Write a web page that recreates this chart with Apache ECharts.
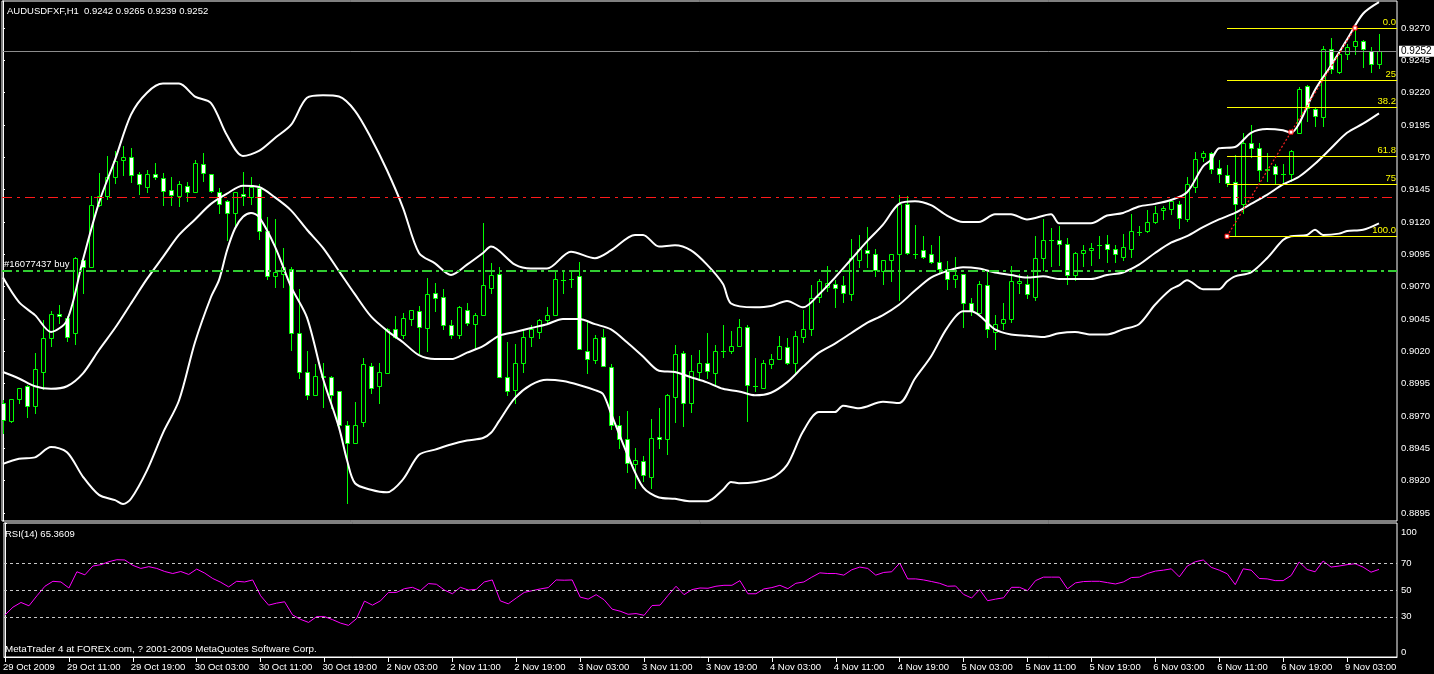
<!DOCTYPE html>
<html><head><meta charset="utf-8">
<script src="https://cdn.jsdelivr.net/npm/echarts@6/dist/echarts.min.js"></script>
<style>html,body{margin:0;padding:0;background:#000;}#c{width:1434px;height:674px;}</style>
</head><body><div id="c"></div>
<script>
const symbolName = 'AUDUSDFXF,H1';
const tickLabels = ['29 Oct 2009','29 Oct 11:00','29 Oct 19:00','30 Oct 03:00','30 Oct 11:00','30 Oct 19:00','2 Nov 03:00','2 Nov 11:00','2 Nov 19:00','3 Nov 03:00','3 Nov 11:00','3 Nov 19:00','4 Nov 03:00','4 Nov 11:00','4 Nov 19:00','5 Nov 03:00','5 Nov 11:00','5 Nov 19:00','6 Nov 03:00','6 Nov 11:00','6 Nov 19:00','9 Nov 03:00'];
const barsPerTick = 8;
const priceTicks = [0.8895,0.8920,0.8945,0.8970,0.8995,0.9020,0.9045,0.9070,0.9095,0.9120,0.9145,0.9170,0.9195,0.9220,0.9245,0.9270];
const rsiTicks = [0,30,50,70,100];
const rsiLevels = [30,50,70];

const opens = [0.8980,0.8966,0.8983,0.8993,0.8978,0.9004,0.9030,0.9049,0.9046,0.9034,
0.9091,0.9085,0.9133,0.9140,0.9155,0.9168,0.9170,0.9157,0.9147,0.9157,
0.9154,0.9145,0.9140,0.9148,0.9143,0.9165,0.9157,0.9143,0.9136,0.9127,
0.9142,0.9139,0.9146,0.9113,0.9078,0.9080,0.9084,0.9034,0.9004,0.8986,
0.9001,0.9000,0.8989,0.8963,0.8949,0.8965,0.9009,0.8993,0.9003,0.9037,
0.9033,0.9045,0.9051,0.9038,0.9065,0.9062,0.9040,0.9033,0.9052,0.9041,
0.9048,0.9069,0.9080,0.9000,0.8990,0.9011,0.9031,0.9035,0.9044,0.9048,
0.9075,0.9076,0.9078,0.9020,0.9013,0.9031,0.9008,0.8963,0.8952,0.8933,
0.8935,0.8923,0.8954,0.8952,0.8985,0.9019,0.8980,0.9004,0.9011,0.9003,
0.9020,0.9020,0.9024,0.9039,0.8993,0.8992,0.9010,0.9014,0.9023,0.9011,
0.9031,0.9037,0.9062,0.9070,0.9072,0.9071,0.9064,0.9091,0.9098,0.9095,
0.9082,0.9091,0.9095,0.9134,0.9095,0.9098,0.9095,0.9089,0.9084,0.9076,
0.9080,0.9057,0.9050,0.9071,0.9035,0.9042,0.9045,0.9073,0.9072,0.9062,
0.9092,0.9106,0.9106,0.9103,0.9079,0.9096,0.9098,0.9102,0.9103,0.9099,
0.9093,0.9099,0.9112,0.9113,0.9120,0.9129,0.9130,0.9134,0.9122,0.9147,
0.9170,0.9173,0.9162,0.9156,0.9151,0.9134,0.9181,0.9177,0.9161,0.9163,
0.9157,0.9157,0.9189,0.9225,0.9207,0.9201,0.9254,0.9236,0.9250,0.9256,
0.9260,0.9252,0.9242];
const highs = [0.8982,0.8983,0.8992,0.8994,0.9019,0.9044,0.9051,0.9056,0.9047,0.9093,
0.9093,0.9140,0.9158,0.9171,0.9175,0.9179,0.9177,0.9159,0.9160,0.9166,
0.9158,0.9155,0.9152,0.9151,0.9168,0.9173,0.9157,0.9146,0.9137,0.9143,
0.9159,0.9155,0.9149,0.9124,0.9122,0.9100,0.9085,0.9068,0.9020,0.9010,
0.9011,0.9001,0.8989,0.8966,0.8981,0.9015,0.9011,0.9011,0.9038,0.9047,
0.9050,0.9052,0.9055,0.9077,0.9073,0.9068,0.9044,0.9055,0.9057,0.9050,
0.9119,0.9088,0.9085,0.9027,0.9026,0.9037,0.9040,0.9045,0.9054,0.9082,
0.9082,0.9082,0.9089,0.9044,0.9033,0.9037,0.9010,0.8970,0.8974,0.8945,
0.8939,0.8968,0.8976,0.8987,0.9025,0.9020,0.9017,0.9021,0.9034,0.9025,
0.9040,0.9036,0.9045,0.9040,0.9015,0.9013,0.9018,0.9032,0.9030,0.9036,
0.9052,0.9071,0.9076,0.9086,0.9075,0.9078,0.9107,0.9110,0.9116,0.9099,
0.9091,0.9095,0.9141,0.9140,0.9118,0.9109,0.9102,0.9109,0.9090,0.9093,
0.9080,0.9061,0.9074,0.9081,0.9048,0.9057,0.9086,0.9080,0.9079,0.9109,
0.9122,0.9115,0.9117,0.9108,0.9097,0.9102,0.9104,0.9109,0.9110,0.9102,
0.9111,0.9126,0.9117,0.9129,0.9132,0.9132,0.9136,0.9136,0.9155,0.9174,
0.9175,0.9174,0.9168,0.9164,0.9172,0.9189,0.9195,0.9181,0.9173,0.9165,
0.9165,0.9176,0.9224,0.9226,0.9209,0.9256,0.9262,0.9253,0.9258,0.9270,
0.9261,0.9255,0.9265];
const lows = [0.8957,0.8965,0.8980,0.8969,0.8972,0.8991,0.9024,0.9042,0.9028,0.9026,
0.9065,0.9085,0.9132,0.9138,0.9150,0.9156,0.9151,0.9142,0.9143,0.9153,
0.9133,0.9133,0.9132,0.9136,0.9143,0.9152,0.9143,0.9127,0.9106,0.9117,
0.9133,0.9134,0.9107,0.9076,0.9070,0.9070,0.9021,0.8999,0.8983,0.8986,
0.8977,0.8976,0.8961,0.8903,0.8949,0.8962,0.8988,0.8980,0.9003,0.9030,
0.9030,0.9040,0.9019,0.9020,0.9051,0.9037,0.9030,0.9030,0.9040,0.9022,
0.9048,0.9065,0.9000,0.8986,0.8980,0.9004,0.9024,0.9030,0.9042,0.9048,
0.9065,0.9070,0.9022,0.9003,0.9011,0.9009,0.8960,0.8945,0.8927,0.8914,
0.8920,0.8914,0.8945,0.8941,0.8965,0.8962,0.8973,0.8999,0.8999,0.8994,
0.9016,0.9019,0.9024,0.8966,0.8989,0.8992,0.9007,0.9014,0.9010,0.9003,
0.9027,0.9033,0.9058,0.9067,0.9054,0.9058,0.9060,0.9085,0.9085,0.9078,
0.9072,0.9074,0.9060,0.9095,0.9092,0.9092,0.9088,0.9081,0.9068,0.9070,
0.9039,0.9048,0.9050,0.9031,0.9022,0.9037,0.9043,0.9065,0.9061,0.9060,
0.9083,0.9086,0.9087,0.9072,0.9075,0.9086,0.9087,0.9092,0.9089,0.9089,
0.9091,0.9093,0.9110,0.9112,0.9119,0.9122,0.9126,0.9115,0.9121,0.9143,
0.9167,0.9158,0.9151,0.9148,0.9109,0.9127,0.9170,0.9152,0.9152,0.9149,
0.9149,0.9152,0.9189,0.9198,0.9194,0.9194,0.9235,0.9235,0.9246,0.9250,
0.9240,0.9236,0.9239];
const closes = [0.8967,0.8983,0.8992,0.8978,0.9006,0.9030,0.9049,0.9047,0.9031,0.9092,
0.9085,0.9133,0.9140,0.9155,0.9167,0.9170,0.9156,0.9149,0.9157,0.9155,
0.9144,0.9141,0.9149,0.9143,0.9166,0.9158,0.9144,0.9134,0.9127,0.9143,
0.9140,0.9147,0.9113,0.9078,0.9081,0.9085,0.9034,0.9004,0.8986,0.9001,
0.9000,0.8986,0.8963,0.8949,0.8963,0.9010,0.8992,0.9004,0.9037,0.9031,
0.9046,0.9052,0.9039,0.9064,0.9061,0.9040,0.9033,0.9054,0.9042,0.9048,
0.9071,0.9079,0.9000,0.8989,0.9011,0.9031,0.9037,0.9044,0.9048,0.9076,
0.9075,0.9076,0.9022,0.9014,0.9030,0.9009,0.8963,0.8952,0.8934,0.8936,
0.8924,0.8953,0.8952,0.8986,0.9018,0.8980,0.9005,0.9011,0.9005,0.9020,
0.9020,0.9024,0.9039,0.8994,0.8993,0.9011,0.9014,0.9024,0.9011,0.9032,
0.9037,0.9061,0.9074,0.9073,0.9069,0.9065,0.9092,0.9099,0.9096,0.9083,
0.9091,0.9095,0.9134,0.9096,0.9095,0.9093,0.9089,0.9084,0.9076,0.9079,
0.9057,0.9051,0.9072,0.9037,0.9041,0.9045,0.9074,0.9074,0.9064,0.9092,
0.9106,0.9106,0.9103,0.9079,0.9096,0.9098,0.9100,0.9102,0.9099,0.9095,
0.9101,0.9113,0.9112,0.9120,0.9127,0.9131,0.9136,0.9123,0.9149,0.9169,
0.9173,0.9161,0.9157,0.9150,0.9134,0.9181,0.9177,0.9160,0.9160,0.9157,
0.9157,0.9175,0.9223,0.9208,0.9202,0.9254,0.9238,0.9250,0.9255,0.9260,
0.9254,0.9242,0.9252];

// Bollinger Bands (20,2): [bar, value]
const bbUpper = [[0,0.9077],[2,0.9058],[4,0.9048],[6,0.9035],[8,0.9044],[10,0.9091],[12,0.9135],[14,0.9168],[16,0.9203],[18,0.9220],[20,0.9227],[22,0.9227],[24,0.9217],[26,0.9212],[28,0.9187],[30,0.9171],[32,0.9175],[34,0.9185],[36,0.9195],[38,0.9216],[40,0.9218],[42,0.9217],[44,0.9206],[46,0.9185],[48,0.9160],[50,0.9131],[52,0.9096],[54,0.9088],[56,0.9079],[58,0.9087],[60,0.9096],[61,0.9101],[64,0.9087],[66,0.9084],[68,0.9084],[71,0.9097],[74,0.9092],[76,0.9098],[79,0.9110],[80,0.9110],[82,0.9101],[84,0.9102],[86,0.9098],[88,0.9087],[90,0.9072],[91,0.9057],[94,0.9054],[96,0.9055],[98,0.9059],[100,0.9054],[102,0.9064],[104,0.9077],[106,0.9091],[108,0.9105],[110,0.9118],[112,0.9134],[114,0.9136],[116,0.9133],[118,0.9125],[120,0.9120],[122,0.9120],[124,0.9126],[126,0.9126],[128,0.9122],[131,0.9126],[132,0.9119],[134,0.9119],[136,0.9119],[138,0.9125],[140,0.9127],[142,0.9132],[144,0.9134],[146,0.9137],[148,0.9143],[150,0.9163],[151,0.9168],[152,0.9177],[154,0.9178],[156,0.9189],[158,0.9192],[160,0.9191],[161,0.9189],[162,0.9196],[164,0.9222],[166,0.9241],[168,0.9261],[170,0.9281],[172,0.9290]];
const bbMiddle = [[0,0.9004],[2,0.8999],[4,0.8993],[6,0.8991],[8,0.8993],[10,0.9003],[12,0.9021],[14,0.9038],[16,0.9057],[18,0.9076],[20,0.9093],[22,0.9110],[24,0.9122],[26,0.9134],[28,0.9142],[30,0.9148],[32,0.9147],[34,0.9139],[36,0.9129],[38,0.9114],[40,0.9100],[42,0.9082],[44,0.9064],[46,0.9047],[48,0.9036],[50,0.9027],[52,0.9017],[54,0.9014],[56,0.9014],[58,0.9019],[60,0.9024],[62,0.9032],[64,0.9035],[66,0.9038],[68,0.9041],[70,0.9045],[72,0.9045],[74,0.9041],[76,0.9037],[78,0.9027],[80,0.9016],[82,0.9005],[84,0.9004],[86,0.9000],[88,0.8996],[90,0.8991],[92,0.8989],[94,0.8986],[96,0.8988],[98,0.8996],[100,0.9008],[102,0.9019],[104,0.9026],[106,0.9034],[108,0.9042],[110,0.9048],[112,0.9056],[114,0.9067],[116,0.9077],[118,0.9082],[120,0.9085],[122,0.9084],[124,0.9081],[126,0.9079],[128,0.9077],[130,0.9078],[132,0.9076],[134,0.9076],[136,0.9076],[138,0.9079],[140,0.9081],[142,0.9087],[144,0.9096],[146,0.9104],[148,0.9109],[150,0.9116],[152,0.9122],[154,0.9127],[156,0.9134],[158,0.9141],[160,0.9149],[162,0.9155],[164,0.9165],[166,0.9177],[168,0.9189],[170,0.9196],[172,0.9204]];
const bbLower = [[0,0.8933],[2,0.8937],[4,0.8938],[6,0.8946],[8,0.8942],[10,0.8923],[12,0.8909],[14,0.8905],[15,0.8902],[16,0.8906],[18,0.8928],[20,0.8957],[22,0.8982],[24,0.9027],[26,0.9062],[27,0.9075],[28,0.9098],[29,0.9115],[30,0.9124],[31,0.9127],[32,0.9124],[34,0.9101],[36,0.9070],[38,0.9046],[40,0.8999],[42,0.8961],[43,0.8936],[44,0.8918],[46,0.8913],[48,0.8911],[50,0.8921],[52,0.8940],[54,0.8944],[56,0.8948],[58,0.8951],[60,0.8953],[61,0.8957],[62,0.8966],[64,0.8984],[66,0.8994],[68,0.8998],[70,0.8997],[72,0.8994],[74,0.8990],[75,0.8987],[76,0.8972],[78,0.8941],[80,0.8915],[82,0.8907],[84,0.8906],[86,0.8904],[88,0.8904],[90,0.8913],[91,0.8919],[92,0.8918],[96,0.8922],[98,0.8932],[100,0.8958],[102,0.8973],[104,0.8973],[105,0.8978],[107,0.8976],[110,0.8981],[112,0.8980],[114,0.8999],[116,0.9016],[118,0.9038],[120,0.9051],[121,0.9051],[122,0.9048],[124,0.9037],[126,0.9033],[128,0.9032],[130,0.9031],[132,0.9034],[134,0.9035],[136,0.9033],[138,0.9033],[140,0.9037],[142,0.9041],[144,0.9056],[146,0.9068],[147,0.9071],[148,0.9075],[150,0.9068],[152,0.9068],[153,0.9074],[154,0.9078],[156,0.9081],[158,0.9092],[160,0.9106],[161,0.9109],[163,0.9110],[164,0.9114],[165,0.9110],[167,0.9111],[168,0.9113],[170,0.9114],[172,0.9119]];

const rsiValues = [31.4,37.2,40.7,38.2,45.7,52.8,56.5,56.0,51.5,63.6,
61.3,67.9,68.9,71.1,72.6,72.4,68.4,66.1,67.4,66.1,
63.8,62.3,63.8,61.6,65.6,62.6,58.6,55.8,52.3,56.5,
56.0,57.5,45.7,38.7,40.2,41.2,31.4,28.1,25.8,30.1,
30.1,27.9,25.3,23.6,28.6,41.7,38.7,41.9,48.2,48.2,
51.0,52.0,49.5,54.8,54.3,50.0,47.2,52.0,50.0,50.5,
56.0,57.5,41.9,39.7,44.0,48.2,49.5,50.8,51.8,57.5,
57.3,57.5,44.7,43.2,46.5,42.7,35.7,34.2,31.9,32.4,
31.1,38.4,38.7,46.0,52.8,46.5,50.3,51.5,51.3,52.8,
53.5,53.5,57.0,47.2,47.2,50.8,51.8,53.5,51.0,55.0,
56.0,59.6,62.8,62.3,62.3,61.1,65.1,67.1,66.1,61.1,
63.1,63.6,70.1,58.3,58.3,57.5,56.3,55.0,52.8,53.0,
46.7,44.0,50.3,42.0,43.2,44.2,52.0,52.0,49.5,57.0,
59.6,59.6,59.6,50.8,55.3,56.3,56.5,56.5,55.5,54.5,
56.0,59.3,59.6,62.3,64.1,64.8,65.8,59.8,67.9,71.1,
72.4,66.9,64.8,62.1,54.0,65.8,64.8,58.6,58.3,57.0,
57.0,60.8,70.9,65.3,63.6,71.6,67.1,67.9,68.9,69.6,
67.1,63.3,65.3609];

// Order / stop lines and Fibonacci retracement
const orderPrice = 0.9082;
const orderLabel = '#16077437 buy';
const stopPrice = 0.9139;
const fibLow = 0.9109, fibHigh = 0.9270;
const fibStartBar = 153, fibEndBar = 169;
const fibLevels = [0, 25, 38.2, 61.8, 75, 100];
const fibLabels = ['0.0', '25', '38.2', '61.8', '75', '100.0'];
const footer = 'MetaTrader 4 at FOREX.com, ? 2001-2009 MetaQuotes Software Corp.';

// ---------------------------------------------------------------
const FONT = 'Liberation Sans, Arial, sans-serif';
const FS = 9.5;
const LIME = '#00ff00';
const N = opens.length;
const xMin = -0.125, xMax = 174.25;
const last = N - 1;
const candleData = opens.map((o, i) => [i, o, highs[i], lows[i], closes[i]]);
const rsiData = rsiValues.map((v, i) => [i, v]);
const tickBars = tickLabels.map((_, k) => k * barsPerTick);
const bid = closes[last];
const fmt4 = v => v.toFixed(4);

const chart = echarts.init(document.getElementById('c'), null, {renderer: 'canvas'});

function renderCandle(params, api) {
  const i = api.value(0), o = api.value(1), h = api.value(2), l = api.value(3), c = api.value(4);
  const pO = api.coord([i, o]);
  const cx = Math.round(pO[0]);
  const yO = Math.round(pO[1]);
  const yC = Math.round(api.coord([i, c])[1]);
  const yH = Math.round(api.coord([i, h])[1]);
  const yL = Math.round(api.coord([i, l])[1]);
  const top = Math.min(yO, yC), bot = Math.max(yO, yC);
  const children = [{
    type: 'line',
    shape: {x1: cx + 0.5, y1: yH, x2: cx + 0.5, y2: yL + 1},
    style: {stroke: LIME, lineWidth: 1}
  }];
  if (bot - top < 1) {
    children.push({type: 'line', shape: {x1: cx - 2, y1: top + 0.5, x2: cx + 3, y2: top + 0.5},
      style: {stroke: LIME, lineWidth: 1}});
  } else {
    children.push({type: 'rect', shape: {x: cx - 1.5, y: top + 0.5, width: 4, height: bot - top},
      style: {fill: c < o ? '#ffffff' : '#000000', stroke: LIME, lineWidth: 1}});
  }
  return {type: 'group', children};
}

const hLine = (p, lineStyle, label) => [
  {coord: [xMin, p], lineStyle, label: label || {show: false}},
  {coord: [xMax, p]}
];

const fibMarks = fibLevels.map((lv, k) => {
  const p = fibHigh - lv / 100 * (fibHigh - fibLow);
  return [
    {coord: [fibStartBar, p], label: {formatter: fibLabels[k]}},
    {coord: [xMax, p]}
  ];
});

const bandLine = (name, data, extra) => Object.assign({
  name, type: 'line', data, xAxisIndex: 0, yAxisIndex: 0,
  symbol: 'none', smooth: 0.3, z: 4, silent: true,
  lineStyle: {color: '#ffffff', width: 2}
}, extra || {});

const option = {
  backgroundColor: '#000000',
  animation: false,
  textStyle: {fontFamily: FONT},
  title: [
    {text: symbolName + '  ' + [opens[last], highs[last], lows[last], closes[last]].map(fmt4).join(' '),
      left: 7, top: 6, padding: 0, textStyle: {color: '#fff', fontSize: FS, fontWeight: 'normal', fontFamily: FONT}},
    {text: 'RSI(14) ' + rsiValues[last].toFixed(4),
      left: 5, top: 529, padding: 0, textStyle: {color: '#fff', fontSize: FS, fontWeight: 'normal', fontFamily: FONT}},
    {text: footer, left: 5, top: 644, padding: 0,
      textStyle: {color: '#fff', fontSize: 9.8, fontWeight: 'normal', fontFamily: FONT}}
  ],
  grid: [
    {left: 2, right: 37, top: 1, height: 520, show: true, borderColor: '#ffffff', borderWidth: 1, backgroundColor: '#000'},
    {left: 2, right: 37, top: 523, height: 134, show: true, borderColor: '#ffffff', borderWidth: 1, backgroundColor: '#000'}
  ],
  xAxis: [
    {type: 'value', gridIndex: 0, min: xMin, max: xMax, show: false},
    {type: 'value', gridIndex: 1, min: xMin, max: xMax,
      axisLine: {show: true, lineStyle: {color: '#fff', width: 1}},
      splitLine: {show: false},
      axisTick: {show: true, customValues: tickBars, length: 5, lineStyle: {color: '#fff'}},
      axisLabel: {show: true, customValues: tickBars, color: '#fff', fontSize: FS, fontFamily: FONT,
        align: 'left', margin: 5, padding: [0, 0, 0, -2],
        formatter: v => tickLabels[Math.round(v / barsPerTick)]}}
  ],
  yAxis: [
    {type: 'value', gridIndex: 0, position: 'right', min: 0.888881, max: 0.9290876, scale: true,
      axisLine: {show: true, lineStyle: {color: '#fff'}},
      splitLine: {show: false},
      axisTick: {show: true, customValues: priceTicks, length: 2, lineStyle: {color: '#fff'}},
      axisLabel: {show: true, customValues: priceTicks, color: '#fff', fontSize: FS, fontFamily: FONT,
        margin: 4, formatter: v => v.toFixed(4)}},
    {type: 'value', gridIndex: 1, position: 'right', min: 0, max: 100,
      axisLine: {show: true, lineStyle: {color: '#fff'}},
      splitLine: {show: false},
      axisTick: {show: true, customValues: rsiTicks, length: 2, lineStyle: {color: '#fff'}},
      axisLabel: {show: true, customValues: rsiTicks, color: '#fff', fontSize: FS, fontFamily: FONT,
        margin: 4, verticalAlignMaxLabel: 'top', verticalAlignMinLabel: 'bottom',
        formatter: v => v === 100 ? '{t|100}' : String(v),
        rich: {t: {color: '#fff', fontSize: FS, fontFamily: FONT, padding: [4, 0, 0, 0]}}}}
  ],
  series: [
    {
      name: 'candles', type: 'custom', xAxisIndex: 0, yAxisIndex: 0, data: candleData,
      encode: {x: 0, y: [1, 2, 3, 4]}, renderItem: renderCandle, clip: true, z: 3, silent: true
    },
    bandLine('upper', bbUpper, {
      markLine: {
        silent: true, symbol: 'none', animation: false,
        data: [
          hLine(bid, {color: '#8c8c8c', type: 'solid', width: 1},
            {show: true, position: 'end', distance: 2, formatter: fmt4(bid), color: '#000',
              backgroundColor: '#fff', padding: [1, 3, 0, 2], fontSize: 10, fontFamily: FONT}),
          hLine(stopPrice, {color: '#ff1a1a', type: [10, 5, 3, 5], width: 1}),
          hLine(orderPrice, {color: '#32cd32', type: [10, 4, 3, 4], width: 2},
            {show: true, position: 'insideStartTop', distance: 2, formatter: orderLabel, color: '#fff',
              fontSize: FS, fontFamily: FONT})
        ]
      }
    }),
    bandLine('middle', bbMiddle, {
      markLine: {
        silent: true, symbol: 'none', animation: false,
        lineStyle: {color: '#ffff00', type: 'solid', width: 1},
        label: {show: true, position: 'insideEndTop', distance: 1, color: '#ffff00', fontSize: FS, fontFamily: FONT},
        data: fibMarks
      }
    }),
    bandLine('lower', bbLower),
    {
      name: 'fibtrend', type: 'line', xAxisIndex: 0, yAxisIndex: 0, z: 5, silent: true,
      data: [[fibStartBar, fibLow], [(fibStartBar + fibEndBar) / 2, (fibLow + fibHigh) / 2], [fibEndBar, fibHigh]],
      symbol: 'rect', symbolSize: 4,
      itemStyle: {color: '#ffffff', borderColor: '#ff0000', borderWidth: 1},
      lineStyle: {color: '#ff2020', type: [2, 2], width: 1.2}
    },
    {
      name: 'RSI', type: 'line', xAxisIndex: 1, yAxisIndex: 1, data: rsiData,
      symbol: 'none', silent: true, z: 4,
      lineStyle: {color: '#ff00ff', width: 1},
      markLine: {
        silent: true, symbol: 'none', animation: false,
        lineStyle: {color: '#c8c8c8', type: [3, 3], width: 1},
        label: {show: false},
        data: rsiLevels.map(v => hLine(v, {color: '#c8c8c8', type: [3, 3], width: 1}))
      }
    }
  ]
};
chart.setOption(option);
</script>
</body></html>
